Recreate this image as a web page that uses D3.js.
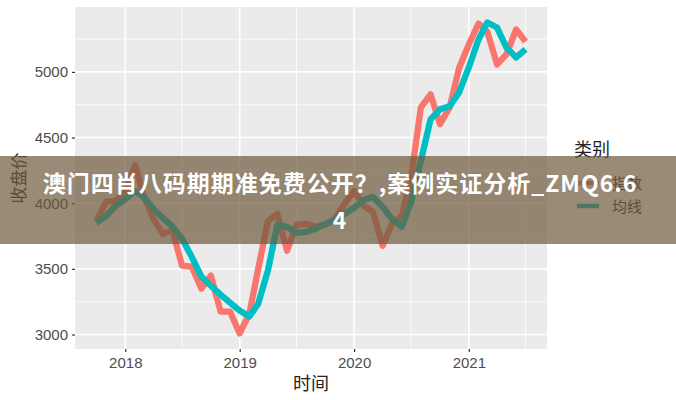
<!DOCTYPE html>
<html>
<head>
<meta charset="utf-8">
<script src="https://cdn.jsdelivr.net/npm/d3@7"></script>
<style>
  html, body { margin: 0; padding: 0; background: #ffffff; }
  svg { display: block; }
</style>
</head>
<body>
<div id="chart"></div>
<script>
// ---- data ----
const months = [
  "2017-10","2017-11","2017-12",
  "2018-01","2018-02","2018-03","2018-04","2018-05","2018-06","2018-07","2018-08","2018-09","2018-10","2018-11","2018-12",
  "2019-01","2019-02","2019-03","2019-04","2019-05","2019-06","2019-07","2019-08","2019-09","2019-10","2019-11","2019-12",
  "2020-01","2020-02","2020-03","2020-04","2020-05","2020-06","2020-07","2020-08","2020-09","2020-10","2020-11","2020-12",
  "2021-01","2021-02","2021-03","2021-04","2021-05","2021-06","2021-07"
];
const indexValues = [
  3865, 4010, 4020,
  4085, 4290, 4055, 3880, 3767, 3790, 3524, 3516, 3349, 3448, 3175, 3175,
  3008, 3160, 3500, 3865, 3918, 3638, 3835, 3843, 3820, 3835, 3880, 3994,
  4093, 3980, 3934, 3676, 3843, 3903, 4199, 4730, 4829, 4602, 4730, 5030,
  5209, 5368, 5307, 5057, 5133, 5323, 5231
];
const maValues = [
  3850, 3903, 3979,
  4032, 4093, 4047, 3956, 3888, 3820, 3729, 3592, 3440, 3372, 3304, 3243,
  3182, 3137, 3235, 3486, 3835, 3820, 3774, 3782, 3805, 3843, 3873, 3918,
  3964, 4025, 4047, 3972, 3880, 3820, 4010, 4321, 4639, 4715, 4738, 4844,
  5034, 5247, 5376, 5338, 5186, 5110, 5171
];
const seriesNames = ["指数", "均线"];
const seriesColors = ["#F8766D", "#00BFC4"];
const yTicks = [3000, 3500, 4000, 4500, 5000];
const yMinorTicks = [3250, 3750, 4250, 4750, 5250];
const xTickLabels = ["2018", "2019", "2020", "2021"];
const xMinorTickLabels = ["2018-07", "2019-07", "2020-07", "2021-07"];
const xTitle = "时间";
const yTitle = "收盘价";
const legendTitle = "类别";
const bannerLines = ["澳门四肖八码期期准免费公开？,案例实证分析_ZMQ6.6", "4"];

// ---- layout ----
const W = 676, H = 400;
const panel = { left: 75, right: 547, top: 7, bottom: 349 };
const parse = d3.timeParse("%Y-%m");
const dates = months.map(parse);

const svg = d3.select("#chart").append("svg")
  .attr("width", W).attr("height", H)
  .attr("viewBox", `0 0 ${W} ${H}`);
svg.append("rect").attr("width", W).attr("height", H).attr("fill", "#ffffff");

// ggplot-like 5% expansion
const tExt = d3.extent(dates);
const tPad = (tExt[1] - tExt[0]) * 0.05;
const x = d3.scaleTime()
  .domain([new Date(+tExt[0] - tPad), new Date(+tExt[1] + tPad)])
  .range([panel.left, panel.right]);
const allVals = indexValues.concat(maValues);
const vExt = d3.extent(allVals);
const vPad = (vExt[1] - vExt[0]) * 0.05;
const y = d3.scaleLinear()
  .domain([vExt[0] - vPad, vExt[1] + vPad])
  .range([panel.bottom, panel.top]);

// panel background
svg.append("rect")
  .attr("x", panel.left).attr("y", panel.top)
  .attr("width", panel.right - panel.left).attr("height", panel.bottom - panel.top)
  .attr("fill", "#EBEBEB");

const grid = svg.append("g");
// minor grid
grid.selectAll(".ymin").data(yMinorTicks).join("line")
  .attr("x1", panel.left).attr("x2", panel.right)
  .attr("y1", d => y(d)).attr("y2", d => y(d))
  .attr("stroke", "#ffffff").attr("stroke-width", 0.8);
grid.selectAll(".xmin").data(xMinorTickLabels.map(parse)).join("line")
  .attr("y1", panel.top).attr("y2", panel.bottom)
  .attr("x1", d => x(d)).attr("x2", d => x(d))
  .attr("stroke", "#ffffff").attr("stroke-width", 0.8);
// major grid
grid.selectAll(".ymaj").data(yTicks).join("line")
  .attr("x1", panel.left).attr("x2", panel.right)
  .attr("y1", d => y(d)).attr("y2", d => y(d))
  .attr("stroke", "#ffffff").attr("stroke-width", 1.6);
const xMajorDates = xTickLabels.map(s => d3.timeParse("%Y")(s));
grid.selectAll(".xmaj").data(xMajorDates).join("line")
  .attr("y1", panel.top).attr("y2", panel.bottom)
  .attr("x1", d => x(d)).attr("x2", d => x(d))
  .attr("stroke", "#ffffff").attr("stroke-width", 1.6);

// axes
const yAxis = d3.axisLeft(y).tickValues(yTicks).tickSize(3).tickPadding(4).tickFormat(d3.format("d"));
const gy = svg.append("g").attr("transform", `translate(${panel.left},0)`).call(yAxis);
const xAxis = d3.axisBottom(x).tickValues(xMajorDates).tickSize(3).tickPadding(5).tickFormat((d, i) => xTickLabels[i]);
const gx = svg.append("g").attr("transform", `translate(0,${panel.bottom})`).call(xAxis);
[gx, gy].forEach(g => {
  g.select(".domain").remove();
  g.selectAll(".tick line").attr("stroke", "#333333").attr("stroke-width", 1.2);
  g.selectAll(".tick text")
    .attr("fill", "#4D4D4D")
    .style("font-family", "'Liberation Sans', Arial, sans-serif")
    .style("font-size", "15px");
});

// lines
const line = d3.line().x((d, i) => x(dates[i])).y(d => y(d)).curve(d3.curveLinear);
[indexValues, maValues].forEach((vals, k) => {
  svg.append("path")
    .datum(vals)
    .attr("d", line)
    .attr("fill", "none")
    .attr("stroke", seriesColors[k])
    .attr("stroke-width", 6.3)
    .attr("stroke-linejoin", "round")
    .attr("stroke-linecap", "butt");
});

// axis titles
const cjk = "'Noto Sans CJK SC', 'Noto Sans', sans-serif";
svg.append("text")
  .attr("x", (panel.left + panel.right) / 2).attr("y", 390)
  .attr("text-anchor", "middle")
  .style("font-family", cjk).style("font-size", "18px")
  .attr("fill", "#222222")
  .text(xTitle);
svg.append("text")
  .attr("transform", `translate(25,${(panel.top + panel.bottom) / 2}) rotate(-90)`)
  .attr("text-anchor", "middle")
  .style("font-family", cjk).style("font-size", "17px")
  .attr("fill", "#222222")
  .text(yTitle);

// legend
const lg = svg.append("g");
lg.append("text")
  .attr("x", 574).attr("y", 156)
  .style("font-family", cjk).style("font-size", "18px")
  .attr("fill", "#222222")
  .text(legendTitle);
seriesNames.forEach((name, k) => {
  const cy = 183 + k * 23;
  lg.append("line")
    .attr("x1", 577).attr("x2", 599)
    .attr("y1", cy).attr("y2", cy)
    .attr("stroke", seriesColors[k]).attr("stroke-width", 4.5);
  lg.append("text")
    .attr("x", 612).attr("y", cy + 6)
    .style("font-family", cjk).style("font-size", "15px")
    .attr("fill", "#333333")
    .text(name);
});

// overlay banner
svg.append("rect")
  .attr("x", 0).attr("y", 156).attr("width", W).attr("height", 88)
  .attr("fill", "#6e5a3c").attr("fill-opacity", 0.7);
const bt = svg.append("text")
  .attr("text-anchor", "middle")
  .style("font-family", cjk).style("font-size", "23px").style("font-weight", "bold")
  .style("letter-spacing", "1px")
  .attr("fill", "#ffffff");
bt.append("tspan").attr("x", 340).attr("y", 192).text(bannerLines[0]);
bt.append("tspan").attr("x", 340).attr("y", 229).text(bannerLines[1]);
</script>
</body>
</html>
